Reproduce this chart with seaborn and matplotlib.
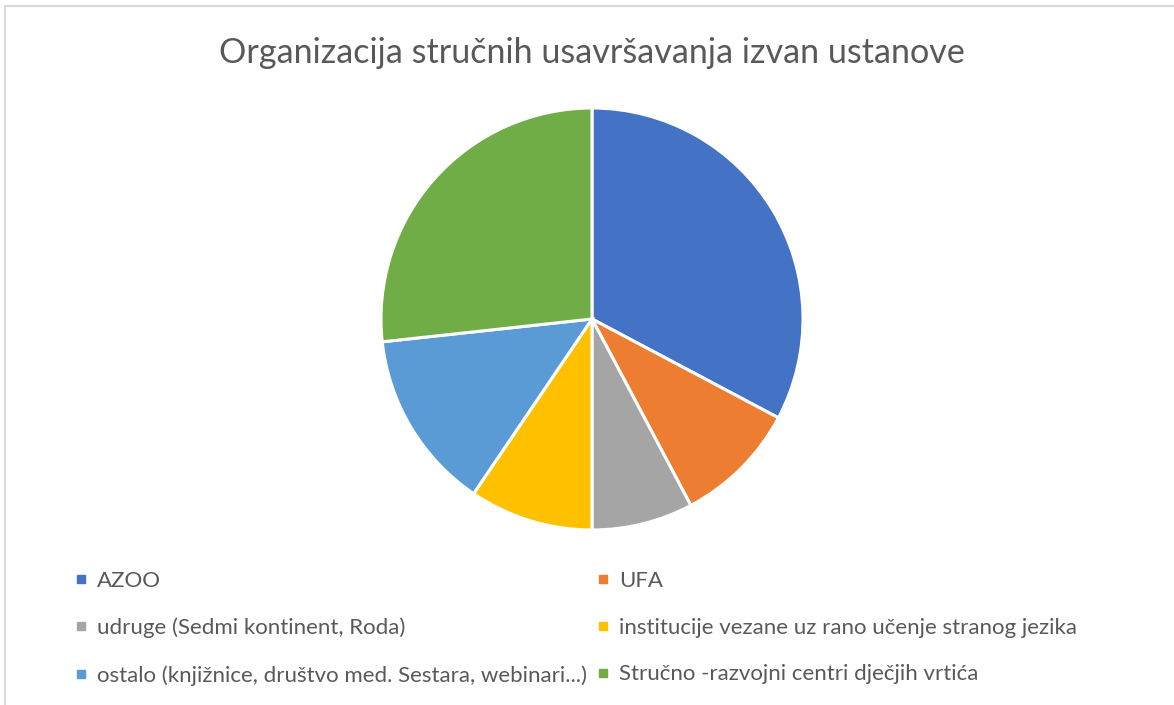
import matplotlib
matplotlib.use("Agg")
import matplotlib.pyplot as plt
from matplotlib.lines import Line2D
import seaborn as sns

categories = ["AZOO", "UFA", "udruge (Sedmi kontinent, Roda)",
              "institucije vezane uz rano učenje stranog jezika",
              "ostalo (knjižnice, društvo med. Sestara, webinari...)",
              "Stručno -razvojni centri dječjih vrtića"]
values = [38, 11, 9, 11, 16, 31]
colors = ["#4472C4", "#ED7D31", "#A5A5A5", "#FFC000", "#5B9BD5", "#70AD47"]
title = "Organizacija stručnih usavršavanja izvan ustanove"

sns.set_theme(style="white")
plt.rcParams['font.family'] = ['Lato', 'DejaVu Sans']

W, H = 1174, 705
fig = plt.figure(figsize=(W / 100, H / 100), dpi=100)
fig.patch.set_facecolor("white")

cx, cy, r = 592, 319, 211
ax = fig.add_axes([(cx - r) / W, (H - cy - r) / H, 2 * r / W, 2 * r / H])
wedges, _ = ax.pie(values, colors=colors, startangle=90, counterclock=False,
                   wedgeprops=dict(edgecolor="white", linewidth=2.2))
ax.set_xlim(-1, 1)
ax.set_ylim(-1, 1)
ax.set_aspect("equal")
ax.axis("off")

fig.text(cx / W, 1 - 53 / H, title, ha="center", va="center",
         fontsize=24.6, color="#595959")

order = [0, 2, 4, 1, 3, 5]
handles = [Line2D([], [], marker="s", linestyle="none", markersize=5.5,
                  markerfacecolor=colors[i], markeredgecolor=colors[i]) for i in order]
labels = [categories[i] for i in order]
leg = fig.legend(handles, labels, loc="upper left", ncol=2,
                 bbox_to_anchor=(75 / W, 1 - 571 / H), frameon=False,
                 fontsize=16, labelcolor="#595959", handlelength=0.5,
                 handletextpad=0.5, columnspacing=0.45, labelspacing=1.2,
                 borderaxespad=0, borderpad=0)

fig.add_artist(Line2D([5 / W, 5 / W], [0, 1 - 6 / H], color="#D9D9D9", lw=1.5,
                      transform=fig.transFigure))
fig.add_artist(Line2D([5 / W, 1], [1 - 6 / H, 1 - 6 / H], color="#D9D9D9", lw=1.5,
                      transform=fig.transFigure))

fig.savefig("out.png", dpi=100, facecolor="white")
